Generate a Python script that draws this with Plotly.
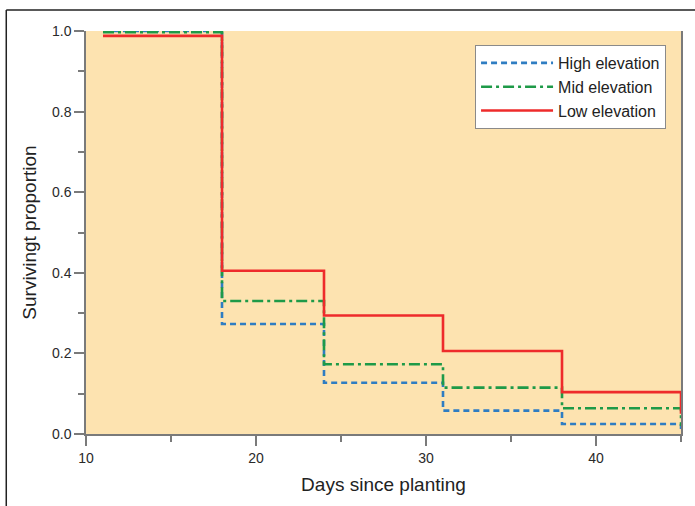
import plotly.graph_objects as go

# Step times (days since planting) and surviving proportions
days = [11, 18, 24, 31, 38, 45]
high = [1.0, 0.273, 0.127, 0.058, 0.025, 0.008]
mid = [0.997, 0.330, 0.173, 0.115, 0.064, 0.02]
low = [0.988, 0.405, 0.294, 0.206, 0.104, 0.05]

series = [
    ("High elevation", high, "#2F7DC2", "6px,4px"),
    ("Mid elevation", mid, "#1E9A48", "11px,4px,3px,4px"),
    ("Low elevation", low, "#EE2B2B", "solid"),
]

fig = go.Figure()
for name, vals, color, dash in series:
    fig.add_trace(go.Scatter(
        x=days, y=vals, name=name, mode="lines",
        line=dict(shape="hv", color=color, width=2.6, dash=dash),
    ))

axis_font = dict(family="Liberation Sans, Arial, sans-serif", size=14, color="#2a2a2a")
fig.update_layout(
    width=695, height=506,
    margin=dict(l=86, r=12, t=31, b=72),
    paper_bgcolor="white",
    plot_bgcolor="#FDE3B0",
    font=dict(family="Liberation Sans, Arial, sans-serif", color="#222222"),
    legend=dict(
        x=(668 - 86) / 597, y=(434 - 45) / 403, xanchor="right", yanchor="top",
        bgcolor="white", bordercolor="#8a8a8a", borderwidth=1,
        font=dict(size=16, color="#222222"),
        itemwidth=72, tracegroupgap=0,
    ),
    xaxis=dict(
        range=[10, 45], tickvals=[10, 20, 30, 40], ticks="outside", ticklen=10,
        tickcolor="#7a7a7a", tickwidth=1.5, showline=True, linecolor="#7a7a7a",
        linewidth=1.5, showgrid=False, zeroline=False, tickfont=axis_font,
        minor=dict(tickvals=[15, 25, 35, 45], ticks="outside", ticklen=6,
                   tickcolor="#7a7a7a", tickwidth=1.5),
        title=dict(text="Days since planting", font=dict(size=19, color="#222222"), standoff=13),
    ),
    yaxis=dict(
        range=[0, 1], tickvals=[0, 0.2, 0.4, 0.6, 0.8, 1.0], tickformat=".1f",
        ticks="outside", ticklen=10, tickcolor="#7a7a7a", tickwidth=1.5,
        showline=True, linecolor="#7a7a7a", linewidth=1.5, mirror=True,
        showgrid=False, zeroline=False, tickfont=axis_font,
        minor=dict(tickvals=[0.1, 0.3, 0.5, 0.7, 0.9], ticks="outside", ticklen=6,
                   tickcolor="#7a7a7a", tickwidth=1.5),
        title=dict(text="Survivingt proportion", font=dict(size=19, color="#222222"), standoff=10),
    ),
)

# outer frame (left and top lines of the figure border)
fig.add_shape(type="line", xref="paper", yref="paper",
              x0=-80/597, x1=-80/597, y0=-80/403, y1=(434-10)/403,
              line=dict(color="#222222", width=1.5))
fig.add_shape(type="line", xref="paper", yref="paper",
              x0=-80/597, x1=1.1, y0=(434-10)/403, y1=(434-10)/403,
              line=dict(color="#222222", width=1.5))

fig.write_html("out.html", config={"displayModeBar": False},
               post_script="document.body.style.margin='0px';document.body.style.padding='0px';")
